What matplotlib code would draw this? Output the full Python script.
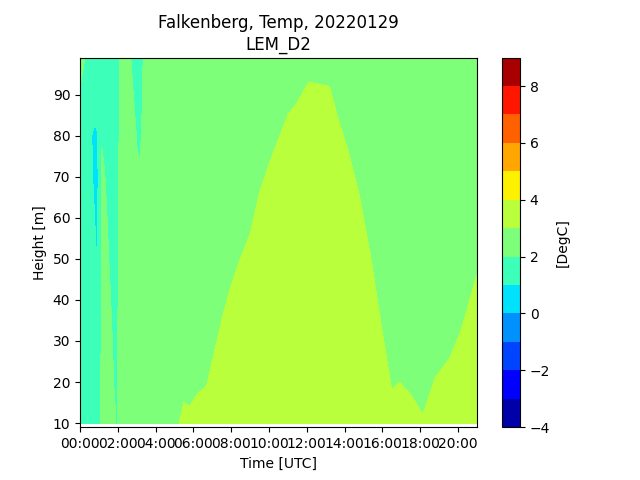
import matplotlib
matplotlib.use('Agg')
import matplotlib.pyplot as plt
import numpy as np

heights = [10, 20, 30, 40, 50, 60, 70, 80, 90, 99]
hours = [0, 0.3, 0.65, 0.8, 0.9, 1.0, 1.05, 1.15, 1.3, 1.45, 1.6, 1.75, 1.9, 1.95, 2.0, 2.1,
         2.6, 2.8, 3.0, 3.15, 3.25, 3.35, 4.5,
         5.25, 5.5, 5.8, 6.2, 6.7, 7.1, 7.5, 7.9, 8.4, 9.0, 9.5, 10, 10.5, 11, 11.5, 12.1,
         13.2, 13.6, 14.2, 14.8, 15.4, 15.9, 16.5, 16.9, 17.5, 18.15, 18.8, 19.6, 20.2, 21]

# one line per time step, bottom to top
temps = [
    [1.50, 1.50, 1.50, 1.50, 1.50, 1.60, 1.70, 1.80, 1.95, 2.20],
    [1.60, 1.60, 1.60, 1.50, 1.50, 1.50, 1.50, 1.60, 1.80, 1.98],
    [1.60, 1.60, 1.60, 1.50, 1.40, 1.25, 1.02, 0.96, 1.50, 1.70],
    [1.70, 1.60, 1.60, 1.50, 1.10, 0.96, 0.85, 0.88, 1.30, 1.60],
    [1.70, 1.70, 1.60, 1.60, 0.98, 0.90, 0.85, 0.95, 1.40, 1.60],
    [1.80, 1.80, 1.70, 1.70, 1.30, 1.20, 1.10, 1.20, 1.50, 1.70],
    [1.95, 1.90, 1.80, 1.80, 1.70, 1.60, 1.50, 1.50, 1.60, 1.70],
    [2.20, 2.10, 2.10, 2.10, 2.10, 2.10, 2.05, 1.98, 1.70, 1.70],
    [2.40, 2.40, 2.40, 2.30, 2.20, 2.15, 2.03, 1.85, 1.70, 1.70],
    [2.40, 2.40, 2.30, 2.20, 2.10, 1.98, 1.80, 1.70, 1.70, 1.70],
    [2.40, 2.30, 2.15, 2.03, 1.90, 1.80, 1.70, 1.70, 1.70, 1.70],
    [2.20, 2.05, 1.95, 1.85, 1.75, 1.70, 1.70, 1.70, 1.70, 1.70],
    [2.02, 1.80, 1.75, 1.70, 1.70, 1.70, 1.70, 1.70, 1.70, 1.70],
    [1.70, 1.70, 1.70, 1.70, 1.70, 1.70, 1.70, 1.70, 1.70, 1.70],
    [2.10, 2.10, 2.05, 1.95, 1.90, 1.90, 1.85, 1.80, 1.80, 1.80],
    [2.20, 2.20, 2.20, 2.20, 2.20, 2.20, 2.15, 2.10, 2.10, 2.10],
    [2.40, 2.40, 2.40, 2.40, 2.40, 2.40, 2.40, 2.30, 2.20, 2.15],
    [2.45, 2.45, 2.45, 2.45, 2.45, 2.40, 2.40, 2.30, 2.03, 1.80],
    [2.50, 2.50, 2.50, 2.45, 2.40, 2.30, 2.10, 1.97, 1.80, 1.70],
    [2.50, 2.50, 2.50, 2.45, 2.40, 2.25, 2.05, 1.90, 1.75, 1.70],
    [2.55, 2.50, 2.50, 2.45, 2.40, 2.30, 2.15, 2.00, 1.85, 1.80],
    [2.55, 2.50, 2.50, 2.45, 2.40, 2.40, 2.35, 2.25, 2.10, 2.02],
    [2.80, 2.70, 2.60, 2.50, 2.40, 2.30, 2.30, 2.30, 2.30, 2.30],
    [3.00, 2.90, 2.80, 2.70, 2.60, 2.50, 2.40, 2.30, 2.20, 2.11],
    [3.05, 2.95, 2.85, 2.75, 2.65, 2.55, 2.45, 2.35, 2.25, 2.16],
    [3.04, 2.94, 2.84, 2.74, 2.64, 2.54, 2.44, 2.34, 2.24, 2.15],
    [3.07, 2.97, 2.87, 2.77, 2.67, 2.57, 2.47, 2.37, 2.27, 2.18],
    [3.09, 2.99, 2.89, 2.79, 2.69, 2.59, 2.49, 2.39, 2.29, 2.20],
    [3.17, 3.07, 2.97, 2.87, 2.77, 2.67, 2.57, 2.47, 2.37, 2.28],
    [3.25, 3.15, 3.05, 2.95, 2.85, 2.75, 2.65, 2.55, 2.45, 2.36],
    [3.32, 3.22, 3.12, 3.02, 2.92, 2.82, 2.72, 2.62, 2.52, 2.43],
    [3.39, 3.29, 3.19, 3.09, 2.99, 2.89, 2.79, 2.69, 2.59, 2.50],
    [3.46, 3.36, 3.26, 3.16, 3.06, 2.96, 2.86, 2.76, 2.66, 2.57],
    [3.56, 3.46, 3.36, 3.26, 3.16, 3.06, 2.96, 2.86, 2.76, 2.67],
    [3.63, 3.53, 3.43, 3.33, 3.23, 3.13, 3.03, 2.93, 2.83, 2.74],
    [3.69, 3.59, 3.49, 3.39, 3.29, 3.19, 3.09, 2.99, 2.89, 2.80],
    [3.75, 3.65, 3.55, 3.45, 3.35, 3.25, 3.15, 3.05, 2.95, 2.86],
    [3.78, 3.68, 3.58, 3.48, 3.38, 3.28, 3.18, 3.08, 2.98, 2.89],
    [3.83, 3.73, 3.63, 3.53, 3.43, 3.33, 3.23, 3.13, 3.03, 2.94],
    [3.82, 3.72, 3.62, 3.52, 3.42, 3.32, 3.22, 3.12, 3.02, 2.93],
    [3.75, 3.65, 3.55, 3.45, 3.35, 3.25, 3.15, 3.05, 2.95, 2.86],
    [3.66, 3.56, 3.46, 3.36, 3.26, 3.16, 3.06, 2.96, 2.86, 2.77],
    [3.55, 3.45, 3.35, 3.25, 3.15, 3.05, 2.95, 2.85, 2.75, 2.66],
    [3.40, 3.30, 3.20, 3.10, 3.00, 2.90, 2.80, 2.70, 2.60, 2.51],
    [3.25, 3.15, 3.05, 2.95, 2.85, 2.75, 2.65, 2.55, 2.45, 2.36],
    [3.08, 2.98, 2.88, 2.78, 2.68, 2.58, 2.48, 2.38, 2.28, 2.19],
    [3.10, 3.00, 2.90, 2.80, 2.70, 2.60, 2.50, 2.40, 2.30, 2.21],
    [3.07, 2.97, 2.87, 2.77, 2.67, 2.57, 2.47, 2.37, 2.27, 2.18],
    [3.02, 2.92, 2.82, 2.72, 2.62, 2.52, 2.42, 2.32, 2.22, 2.13],
    [3.11, 3.01, 2.91, 2.81, 2.71, 2.61, 2.51, 2.41, 2.31, 2.22],
    [3.16, 3.06, 2.96, 2.86, 2.76, 2.66, 2.56, 2.46, 2.36, 2.27],
    [3.23, 3.13, 3.03, 2.93, 2.83, 2.73, 2.63, 2.53, 2.43, 2.34],
    [3.36, 3.26, 3.16, 3.06, 2.96, 2.86, 2.76, 2.66, 2.56, 2.47],
]

tick_hours = [0, 2, 4, 6, 8, 10, 12, 14, 16, 18, 20]
tick_labels = ['00:00', '02:00', '04:00', '06:00', '08:00', '10:00',
               '12:00', '14:00', '16:00', '18:00', '20:00']
levels = [-4, -3, -2, -1, 0, 1, 2, 3, 4, 5, 6, 7, 8, 9]

fig, ax = plt.subplots(figsize=(6.4, 4.8))
cf = ax.contourf(hours, heights, np.array(temps).T, levels=levels, cmap='jet')
cbar = fig.colorbar(cf, ax=ax)
cbar.set_label('[DegC]')

ax.set_xlim(0, 21)
ax.set_ylim(9, 99)
ax.set_xticks(tick_hours)
ax.set_xticklabels(tick_labels)
ax.set_xlabel('Time [UTC]')
ax.set_ylabel('Height [m]')
ax.set_title('Falkenberg, Temp, 20220129\nLEM_D2')

plt.savefig('out.png', dpi=100)
